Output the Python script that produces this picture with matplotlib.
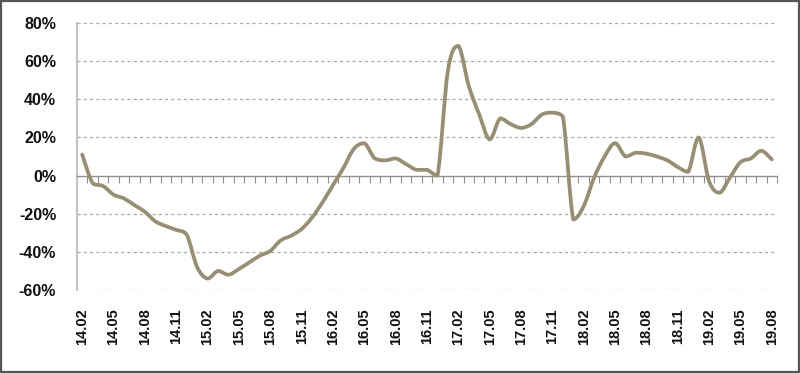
import matplotlib
matplotlib.use("Agg")
import matplotlib.pyplot as plt
from matplotlib.patches import Rectangle, PathPatch
from matplotlib.path import Path
from matplotlib.ticker import FixedLocator, NullFormatter

months = [f"{y:02d}.{m:02d}" for y in range(14, 20) for m in range(1, 13)]
months = months[months.index("14.02"):months.index("19.08") + 1]

values = [11, -4, -5.5, -10, -12, -15.5, -19, -24, -26.5, -28.5, -31,
          -48, -54, -50, -52, -49, -45.5, -42, -39.5, -34, -31.5, -28,
          -22, -14, -5, 4, 14, 17, 9, 8, 9, 6, 3, 3, 0,
          55, 68, 47, 32, 19, 30, 27, 25, 27, 32, 33, 31,
          -23, -16, -1, 10, 17, 10, 12, 11.5, 10, 8, 4.5, 2,
          20, -3, -9, -1, 7, 9, 13, 8.5]

label_months = months[::3]
y_ticks = [-60, -40, -20, 0, 20, 40, 60, 80]
y_labels = [f"{v}%" for v in y_ticks]

plt.rcParams['font.family'] = ['Liberation Sans', 'DejaVu Sans']

fig = plt.figure(figsize=(8.0, 3.73), dpi=100)
ax = fig.add_axes([0.09625, 0.2225, 0.875, 0.7158])

x = list(range(len(values)))


def clamp(v, a, b):
    lo, hi = min(a, b), max(a, b)
    return max(lo, min(hi, v))


# smoothed line (Excel-style): cubic Bezier segments through the data points
verts = [(x[0], values[0])]
codes = [Path.MOVETO]
n = len(values)
for i in range(n - 1):
    x0, y0 = x[max(i - 1, 0)], values[max(i - 1, 0)]
    x1, y1 = x[i], values[i]
    x2, y2 = x[i + 1], values[i + 1]
    x3, y3 = x[min(i + 2, n - 1)], values[min(i + 2, n - 1)]
    c1 = (x1 + (x2 - x0) / 6.0, clamp(y1 + (y2 - y0) / 6.0, y1, y2))
    c2 = (x2 - (x3 - x1) / 6.0, clamp(y2 - (y3 - y1) / 6.0, y1, y2))
    verts += [c1, c2, (x2, y2)]
    codes += [Path.CURVE4] * 3
ax.add_patch(PathPatch(Path(verts, codes), facecolor='none', edgecolor='#978F72',
                       lw=2.7, joinstyle='round', capstyle='round', zorder=3))

ax.set_xlim(-0.5, len(values) - 0.5)
ax.set_ylim(-60, 80)

# grid
for v in y_ticks:
    if v != 0:
        ax.axhline(v, color='#a8a8a8', lw=0.9, ls=(0, (2.5, 2.5)), zorder=1)

ax.set_yticks(y_ticks)
ax.set_yticklabels(y_labels, fontsize=11.5, fontweight='bold', color='#111111')
ax.tick_params(axis='y', length=0, pad=15)

for s in ['top', 'right']:
    ax.spines[s].set_visible(False)
ax.spines['left'].set_color('#c4c4c4')
ax.spines['left'].set_linewidth(1.5)
ax.spines['bottom'].set_position(('data', 0))
ax.spines['bottom'].set_color('#909090')
ax.spines['bottom'].set_linewidth(1.0)

# ticks at category boundaries on the zero line
ax.xaxis.set_major_locator(FixedLocator([i - 0.5 for i in range(len(values) + 1)]))
ax.xaxis.set_major_formatter(NullFormatter())
ax.tick_params(axis='x', direction='out', length=5, width=0.8, color='#909090')

# category labels at the bottom
sec = ax.secondary_xaxis(0.0)
sec.set_xticks([months.index(m) for m in label_months])
sec.set_xticklabels(label_months, rotation=90, fontsize=10.5, fontweight='bold',
                    color='#111111')
sec.tick_params(length=0, pad=13)
sec.spines['bottom'].set_visible(False)

fig.add_artist(Rectangle((0.001, 0.002), 0.998, 0.996, transform=fig.transFigure,
                         fill=False, edgecolor='#555555', lw=1.6))

fig.savefig("out.png", dpi=100)
